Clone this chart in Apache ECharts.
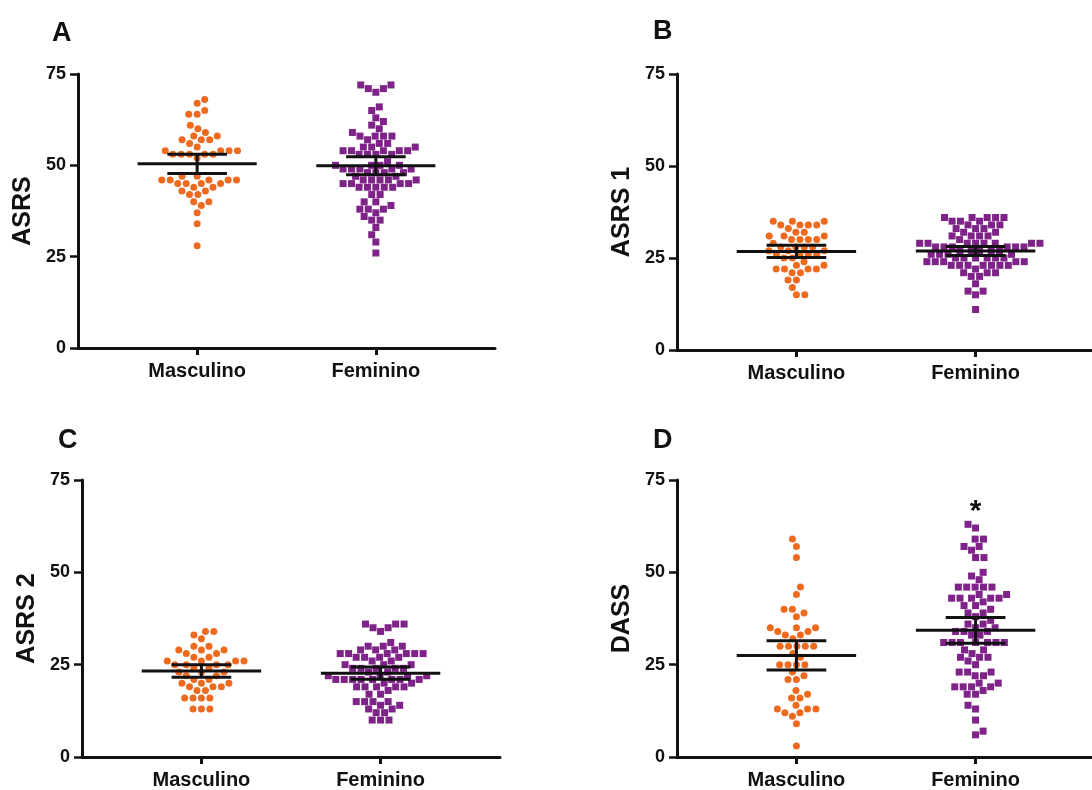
<!DOCTYPE html>
<html>
<head>
<meta charset="utf-8">
<script src="https://cdn.jsdelivr.net/npm/echarts@6/dist/echarts.min.js"></script>
<style>
  html, body { margin: 0; padding: 0; background: #fff; }
  #main { width: 1092px; height: 790px; }
</style>
</head>
<body>
<div id="main"></div>
<script>
// categories and labels
var categories = ['Masculino', 'Feminino'];
var panelLetters = ['A', 'B', 'C', 'D'];
var yNames = ['ASRS', 'ASRS 1', 'ASRS 2', 'DASS'];
var yTicks = [0, 25, 50, 75];

// individual scores
var asrsMasc = [68, 67, 65, 64, 64, 61, 60, 59, 58, 58, 57, 57, 57, 56, 55, 54, 54, 54, 54, 53, 53, 53, 53, 53, 52,
  47, 47, 46, 46, 46, 46, 46, 45, 45, 45, 45, 44, 44, 43, 43, 42, 42, 40, 40, 39, 37, 34, 28];
var asrsFem = [72, 72, 71, 71, 70, 66, 65, 63, 62, 61, 60, 59, 58, 58, 58, 58, 57, 56, 56, 55, 55, 55,
  54, 54, 54, 54, 54, 53, 53, 53, 53, 51, 50, 50, 50, 50, 49, 49, 49, 49, 49, 48, 48, 48, 48, 47, 47,
  46, 46, 46, 46, 46, 45, 45, 45, 45, 44, 44, 44, 44, 44, 42, 42, 40, 40, 39, 38, 38, 38, 37, 36, 35, 35,
  33, 31, 29, 26];

var asrs1Masc = [35, 35, 35, 34, 34, 34, 34, 33, 32, 32, 31, 31, 31, 30, 30, 30, 30, 29, 28, 28, 28, 28,
  27, 27, 27, 26, 26, 26, 26, 25, 25, 24, 23, 23, 22, 22, 22, 22, 21, 21, 19, 19, 17, 15, 15];
var asrs1Fem = [36, 36, 36, 36, 36, 35, 35, 35, 34, 34, 34, 33, 33, 33, 32, 32, 31, 31, 31, 31, 30,
  29, 29, 29, 29, 29, 29, 29, 29, 28, 28, 28, 28, 28, 28, 27, 27, 27, 27, 27, 26, 26, 26, 26,
  25, 25, 25, 25, 25, 25, 24, 24, 24, 24, 24, 23, 23, 23, 23, 23, 23, 23, 22, 21, 21, 21, 20, 20,
  18, 16, 16, 15, 11];

var asrs2Masc = [34, 34, 33, 32, 30, 30, 29, 29, 29, 28, 28, 27, 27, 26, 26, 26, 26, 25, 25, 25, 25,
  24, 24, 23, 23, 23, 22, 22, 21, 21, 20, 20, 20, 19, 19, 19, 18, 18, 16, 16, 16, 16, 13, 13, 13];
var asrs2Fem = [36, 36, 36, 35, 35, 34, 31, 30, 30, 30, 29, 29, 29, 28, 28, 28, 28, 28, 28, 27, 27, 27, 27,
  26, 26, 25, 25, 25, 24, 24, 24, 24, 24, 23, 23, 22, 22, 22, 22, 21, 21, 21, 21, 21, 21, 21, 21,
  20, 20, 19, 19, 19, 19, 19, 18, 17, 17, 15, 15, 15, 15, 14, 14, 13, 13, 12, 12, 10, 10, 10];

var dassMasc = [59, 57, 54, 46, 44, 40, 40, 39, 38, 35, 35, 35, 34, 34, 33, 33, 32, 30, 30, 30, 30, 30,
  28, 27, 25, 25, 25, 25, 23, 22, 21, 21, 18, 17, 16, 16, 14, 13, 13, 13, 12, 12, 11, 9, 3];
var dassFem = [63, 62, 59, 59, 57, 57, 56, 54, 54, 50, 49, 48, 46, 46, 46, 46, 46, 44, 44, 43, 43, 43, 43, 43,
  42, 41, 41, 40, 39, 39, 38, 37, 36, 36, 35, 35, 34, 34, 34, 33, 33, 31, 31, 31, 31, 31, 31, 31,
  29, 29, 28, 27, 27, 27, 26, 25, 23, 23, 23, 22, 22, 20, 20, 19, 19, 19, 19, 18, 17, 17, 14, 13, 10, 7, 6];

// mean and error bar as drawn in each panel (A, B, C, D)
var meanMasc = [50.4, 26.8, 23.3, 27.5];
var meanFem = [49.9, 26.9, 22.7, 34.3];
var errMasc = [2.65, 1.65, 1.7, 3.95];
var errFem = [2.45, 1.2, 1.65, 3.5];

// significance mark over Feminino in D
var starValue = 66.5;

var mascSets = [asrsMasc, asrs1Masc, asrs2Masc, dassMasc];
var femSets = [asrsFem, asrs1Fem, asrs2Fem, dassFem];

var ORANGE = '#F06A1E';
var PURPLE = '#7E2387';
var INK = '#111';
var FONT = '"Liberation Sans", Arial, sans-serif';
var catPos = [2, 5];

var grids = [
  { left: 78, top: 74, width: 417, height: 274 },
  { left: 677, top: 74, width: 418, height: 276 },
  { left: 82, top: 480, width: 418, height: 277 },
  { left: 677, top: 480, width: 418, height: 277 }
];
var letterPos = [[47, 15], [648, 13], [53, 422], [648, 422]];

// simple beeswarm: horizontal pixel offsets so dots don't overlap
function swarm(values, pxPerUnit, d) {
  var order = values.map(function (v, i) { return i; })
    .sort(function (a, b) { return values[a] - values[b]; });
  var placed = [];
  var off = new Array(values.length);
  var flip = 1;
  order.forEach(function (i) {
    var y = values[i] * pxPerUnit;
    var near = placed.filter(function (p) { return Math.abs(p.y - y) < d; });
    var cands = [0];
    near.forEach(function (p) {
      var dx = Math.sqrt(d * d - (p.y - y) * (p.y - y));
      cands.push(p.x + dx, p.x - dx);
    });
    var ok = cands.filter(function (c) {
      return near.every(function (p) {
        return (p.x - c) * (p.x - c) + (p.y - y) * (p.y - y) >= d * d - 0.01;
      });
    });
    ok.sort(function (a, b) {
      return (Math.abs(a) - Math.abs(b)) || (a - b) * flip;
    });
    var x = ok[0];
    flip = -flip;
    placed.push({ x: x, y: y });
    off[i] = x;
  });
  return off;
}

function dots(values, xPos, pxPerUnit) {
  var off = swarm(values, pxPerUnit, 8.4);
  return values.map(function (v, i) {
    return { value: [xPos, v], symbolOffset: [off[i], 0] };
  });
}

function seg(a, b) {
  return {
    type: 'line',
    shape: { x1: a[0], y1: a[1], x2: b[0], y2: b[1] },
    style: { stroke: INK, lineWidth: 3 }
  };
}

var option = {
  backgroundColor: '#fff',
  animation: false,
  title: [],
  grid: [],
  xAxis: [],
  yAxis: [],
  series: []
};

grids.forEach(function (g, i) {
  option.grid.push({
    left: g.left, top: g.top, width: g.width, height: g.height,
    containLabel: false, outerBoundsMode: 'none'
  });
  option.title.push({
    text: panelLetters[i], left: letterPos[i][0], top: letterPos[i][1],
    textStyle: { fontSize: 27, fontWeight: 'bold', color: INK, fontFamily: FONT }
  });
  option.xAxis.push({
    type: 'value', gridIndex: i, min: 0, max: 7,
    axisLine: { show: true, onZero: false, lineStyle: { color: INK, width: 3 } },
    axisTick: { show: true, customValues: catPos, length: 7, lineStyle: { color: INK, width: 3 } },
    axisLabel: {
      customValues: catPos,
      formatter: function (v) { return categories[catPos.indexOf(v)]; },
      fontSize: 20, fontWeight: 'bold', color: INK, fontFamily: FONT, margin: 13
    },
    splitLine: { show: false }
  });
  option.yAxis.push({
    type: 'value', gridIndex: i, min: yTicks[0], max: yTicks[yTicks.length - 1], interval: 25,
    name: yNames[i], nameLocation: 'middle', nameGap: 42,
    nameTextStyle: { fontSize: 25, fontWeight: 'bold', color: INK, fontFamily: FONT },
    axisLine: { show: true, lineStyle: { color: INK, width: 3 } },
    axisTick: { show: true, length: 8, lineStyle: { color: INK, width: 2.5 } },
    axisLabel: { fontSize: 18, fontWeight: 'bold', color: INK, fontFamily: FONT, margin: 12 },
    splitLine: { show: false }
  });

  var pxPerUnit = g.height / 75;
  option.series.push({
    type: 'scatter', xAxisIndex: i, yAxisIndex: i,
    symbol: 'circle', symbolSize: 7,
    itemStyle: { color: ORANGE, opacity: 1 },
    data: dots(mascSets[i], catPos[0], pxPerUnit), z: 2
  });
  var fem = {
    type: 'scatter', xAxisIndex: i, yAxisIndex: i,
    symbol: 'rect', symbolSize: 7,
    itemStyle: { color: PURPLE, opacity: 1 },
    data: dots(femSets[i], catPos[1], pxPerUnit), z: 2
  };
  if (i === 3) {
    fem.markPoint = {
      symbol: 'circle', symbolSize: 0,
      label: { show: true, formatter: '*', fontSize: 30, fontWeight: 'bold', color: INK, fontFamily: FONT, position: 'inside' },
      data: [{ coord: [catPos[1], starValue] }]
    };
  }
  option.series.push(fem);

  // mean with error bars
  option.series.push({
    type: 'custom', xAxisIndex: i, yAxisIndex: i, z: 10, silent: true,
    data: [
      [catPos[0], meanMasc[i], errMasc[i]],
      [catPos[1], meanFem[i], errFem[i]]
    ],
    renderItem: function (params, api) {
      var x = api.value(0), m = api.value(1), e = api.value(2);
      return {
        type: 'group',
        children: [
          seg(api.coord([x - 1, m]), api.coord([x + 1, m])),
          seg(api.coord([x - 0.5, m + e]), api.coord([x + 0.5, m + e])),
          seg(api.coord([x - 0.5, m - e]), api.coord([x + 0.5, m - e])),
          seg(api.coord([x, m - e]), api.coord([x, m + e]))
        ]
      };
    }
  });
});

var chart = echarts.init(document.getElementById('main'));
chart.setOption(option);
</script>
</body>
</html>
